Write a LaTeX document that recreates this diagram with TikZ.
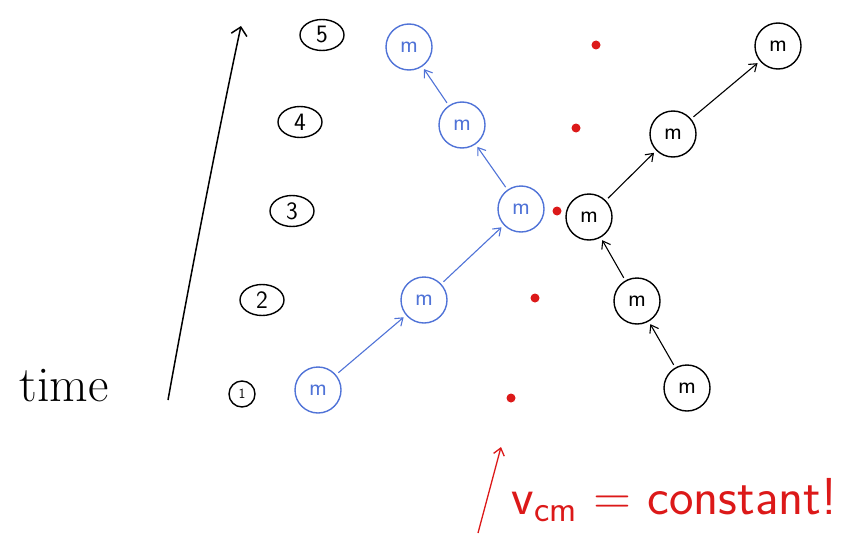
\documentclass[tikz,border=0pt]{standalone}
\usetikzlibrary{arrows.meta,shapes.geometric}
\definecolor{penblue}{RGB}{80,115,215}
\definecolor{penred}{RGB}{220,25,25}
\begin{document}
\begin{tikzpicture}[x=1pt,y=-1pt,
  mass/.style={circle,draw,line width=1.4pt,minimum size=46pt,inner sep=0pt,font=\sffamily\fontsize{24}{24}\selectfont},
  bmass/.style={mass,draw=penblue,text=penblue},
  kmass/.style={mass,draw=black},
  tnum/.style={ellipse,draw,line width=1.4pt,minimum width=44pt,minimum height=31pt,inner sep=0pt,font=\sffamily\fontsize{25}{25}\selectfont},
  cmdot/.style={circle,fill=penred,inner sep=0pt,minimum size=9pt},
  barrow/.style={-{Straight Barb[length=7pt,width=10pt]},line width=1.1pt,shorten >=3pt,shorten <=3pt},
]
\useasboundingbox (0,0) rectangle (850,535);
% time axis
\coordinate (tb) at (168,400);
\coordinate (tt) at (241,26);
\draw[line width=1.5pt,-{Straight Barb[length=8pt,width=16pt]}] (tb) .. controls (195,250) and (225,100) .. (tt);
\node[font=\fontsize{50}{50}\selectfont,anchor=center] (time) at (64,386) {time};
% time numbers
\node[tnum,minimum width=26pt,minimum height=26pt] (n1) at (242,394) {\fontsize{14}{14}\selectfont 1};
\node[tnum] (n2) at (262,300) {2};
\node[tnum] (n3) at (292,211) {3};
\node[tnum] (n4) at (300,122) {4};
\node[tnum] (n5) at (322,35) {5};
% blue masses
\node[bmass] (b1) at (318,390) {m};
\node[bmass] (b2) at (424,300) {m};
\node[bmass] (b3) at (521,209) {m};
\node[bmass] (b4) at (462,125) {m};
\node[bmass] (b5) at (409,47) {m};
% black masses
\node[kmass] (k1) at (687,388) {m};
\node[kmass] (k2) at (637,301) {m};
\node[kmass] (k3) at (589,217) {m};
\node[kmass] (k4) at (673,134) {m};
\node[kmass] (k5) at (778,46) {m};
% centre of mass dots
\node[cmdot] (d1) at (511,398) {};
\node[cmdot] (d2) at (535,298) {};
\node[cmdot] (d3) at (557,211) {};
\node[cmdot] (d4) at (576,128) {};
\node[cmdot] (d5) at (596,45) {};
% arrows
\draw[barrow,penblue] (b1) -- (b2);
\draw[barrow,penblue] (b2) -- (b3);
\draw[barrow,penblue] (b3) -- (b4);
\draw[barrow,penblue] (b4) -- (b5);
\draw[barrow] (k1) -- (k2);
\draw[barrow] (k2) -- (k3);
\draw[barrow] (k3) -- (k4);
\draw[barrow] (k4) -- (k5);
% vcm label
\coordinate (ra) at (478,533);
\coordinate (rb) at (501,447);
\draw[penred,line width=1.3pt,-{Straight Barb[length=7pt,width=11pt]}] (ra) -- (rb);
\node[penred,font=\sffamily\fontsize{52}{52}\selectfont,anchor=west] (vcm) at (508,500) {v\textsubscript{cm} = constant!};
\end{tikzpicture}
\end{document}
